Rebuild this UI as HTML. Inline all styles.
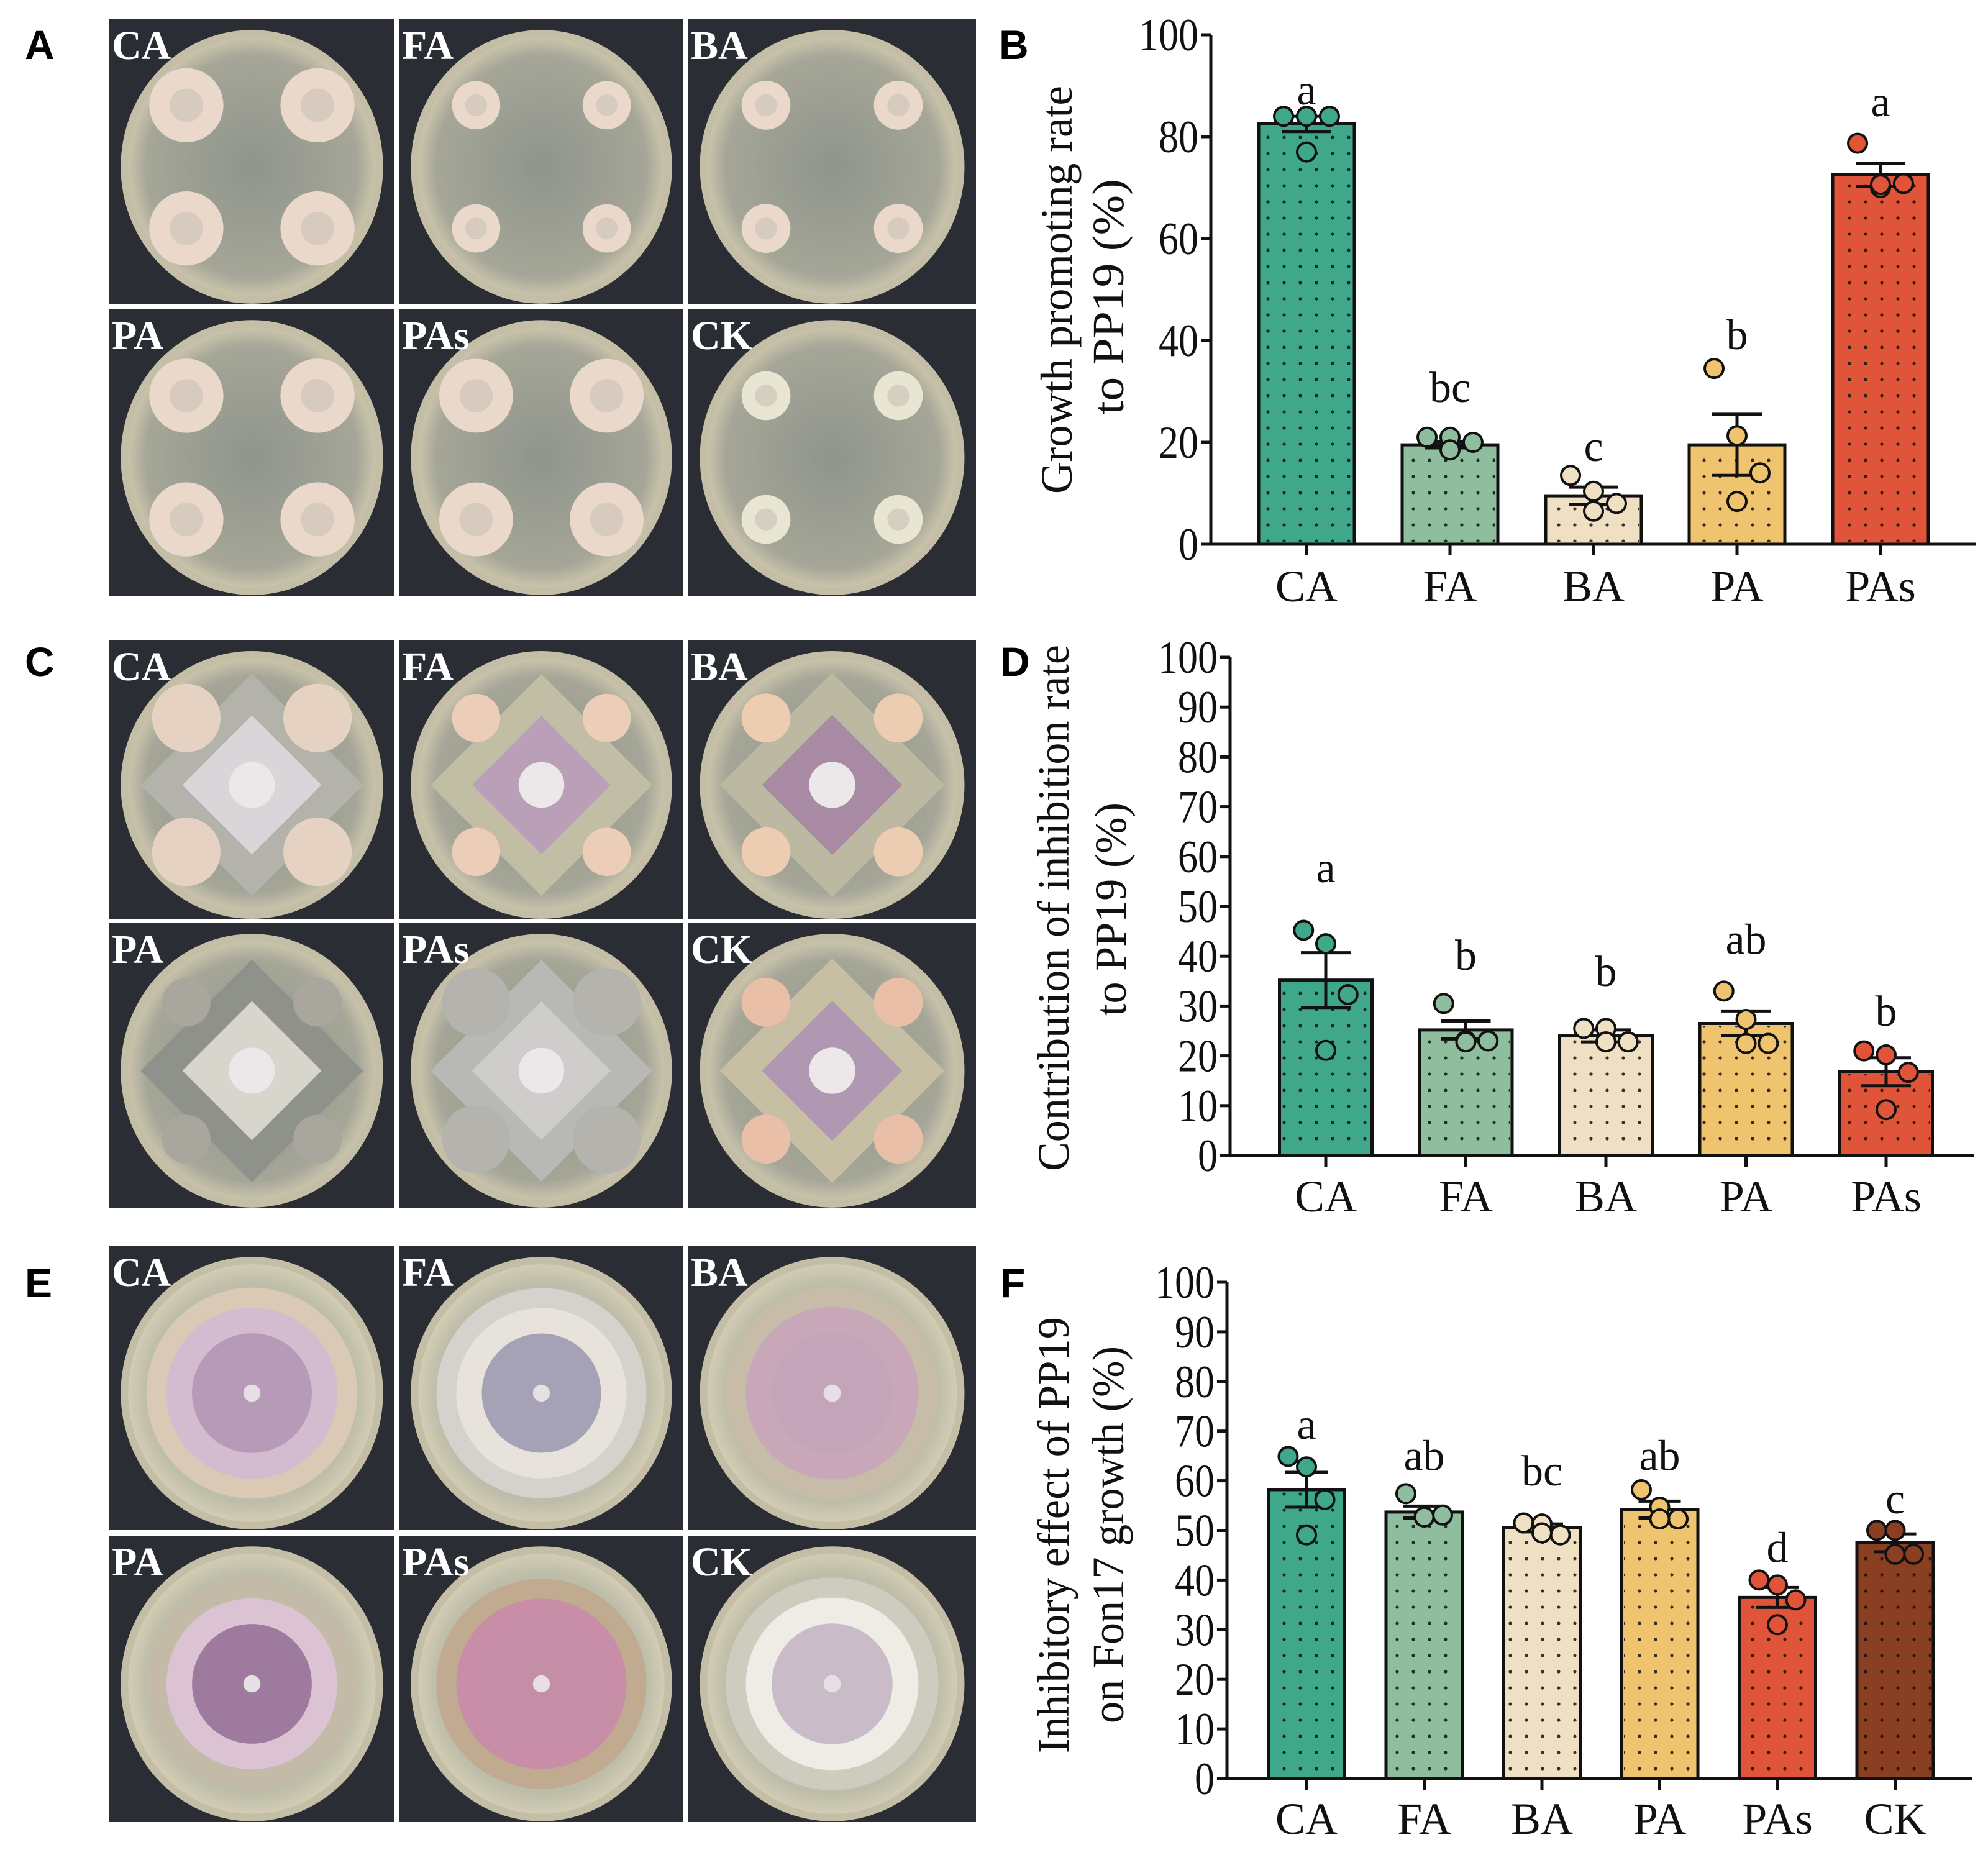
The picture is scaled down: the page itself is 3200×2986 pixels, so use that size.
<!DOCTYPE html>
<html><head><meta charset="utf-8">
<style>
html,body{margin:0;padding:0;background:#fff;}
svg{display:block;}
text{font-family:"Liberation Serif",serif;}
.pl{font-family:"Liberation Sans",sans-serif;font-weight:bold;}
</style></head>
<body>
<svg id="fig" width="3200" height="2986" viewBox="0 0 3200 2986" xmlns="http://www.w3.org/2000/svg">
<defs>
<pattern id="dots" width="26" height="26" patternUnits="userSpaceOnUse"><circle cx="13" cy="13" r="2.6" fill="#111"/></pattern>
<radialGradient id="agarA" cx="50%" cy="50%" r="50%"><stop offset="0" stop-color="#8f948c"/><stop offset="0.85" stop-color="#a5a697"/><stop offset="1" stop-color="#c9c3ab"/></radialGradient>
<radialGradient id="agarE" cx="50%" cy="50%" r="50%"><stop offset="0" stop-color="#b2b4a6"/><stop offset="0.85" stop-color="#bdbda9"/><stop offset="1" stop-color="#d3ccb4"/></radialGradient>
</defs>
<g id="photos"></g>
<g id="charts"></g>
<text class="pl" x="40" y="95" font-size="66">A</text>
<text class="pl" x="1608" y="95" font-size="66">B</text>
<text class="pl" x="40" y="1088" font-size="66">C</text>
<text class="pl" x="1610" y="1088" font-size="66">D</text>
<text class="pl" x="40" y="2088" font-size="66">E</text>
<text class="pl" x="1610" y="2088" font-size="66">F</text>
</svg>
<script>
// ---------- Chart B data ----------
const catsB = ['CA','FA','BA','PA','PAs'];
const meansB = [82.5,19.5,9.5,19.5,72.5];
const semB = [1.5,0.6,1.7,6,2.2];
const ptsB = [[84,84,84,77],[21,21,20,18.5],[13.5,10.4,8,6.5],[34.5,21.3,14,8.4],[78.7,70,70.8,70.6]];
const lettersB = ['a','bc','c','b','a'];
const letterYB = [89,30.6,19,41,86.7];
const ticksB = [0,20,40,60,80,100];
// ---------- Chart D data ----------
const catsD = ['CA','FA','BA','PA','PAs'];
const meansD = [35.2,25.2,24,26.5,16.8];
const semD = [5.5,1.8,1.2,2.5,2.8];
const ptsD = [[45.2,42.5,32.3,21.1],[30.5,23,23,22.8],[25.5,25.5,22.8,22.8],[33,27.3,22.5,22.5],[21,20.2,16.7,9.2]];
const lettersD = ['a','b','b','ab','b'];
const letterYD = [57.6,40,36.8,43.2,28.8];
const ticksD = [0,10,20,30,40,50,60,70,80,90,100];
// ---------- Chart F data ----------
const catsF = ['CA','FA','BA','PA','PAs','CK'];
const meansF = [58.2,53.7,50.5,54.2,36.5,47.5];
const semF = [3.5,1.2,0.8,1.7,2,1.8];
const ptsF = [[64.9,62.8,56.2,49.1],[57.4,52.7,53.1,52.7],[51.5,51.3,49.1,49.5],[58.2,54.7,52.3,52.3],[40,39,36,31],[50,50,45.2,45.2]];
const lettersF = ['a','ab','bc','ab','d','c'];
const letterYF = [71.2,64.9,61.8,64.9,46.4,56.2];
const ticksF = [0,10,20,30,40,50,60,70,80,90,100];

const colorMap = {CA:'#3fa88b',FA:'#8fbe9f',BA:'#efdfc3',PA:'#f0c46e',PAs:'#e0553a',CK:'#8b3f22'};
const NS='http://www.w3.org/2000/svg';
function mk(tag, attrs, parent){const e=document.createElementNS(NS,tag);for(const k in attrs)e.setAttribute(k,attrs[k]);parent.appendChild(e);return e;}

function drawChart(id, cats, means, sem, pts, letters, letterY, ticks, L){
  const charts=document.getElementById('charts');
  const g=mk('g',{},charts);
  
  
  const yS=v=>L.y0-(L.y0-L.y100)*v/100;
  const xS=i=>L.c0+i*L.step;
  cats.forEach((c,i)=>{
    const top=yS(means[i]);
    const bar=mk('rect',{x:xS(i)-L.bw/2,y:top,width:L.bw,height:L.y0-top,fill:colorMap[c],stroke:'#111','stroke-width':5},g);
    
    
    const dots=mk('rect',{x:xS(i)-L.bw/2+4,y:top+4,width:L.bw-8,height:Math.max(0,L.y0-top-8),fill:'url(#dots)',opacity:0.85},g);
    
    
  });
  cats.forEach((c,i)=>{
    const x=xS(i), hi=yS(means[i]+sem[i]), lo=yS(means[i]-sem[i]);
    const eb=mk('path',{d:`M${x},${hi}V${lo}M${x-L.cap},${hi}H${x+L.cap}M${x-L.cap},${lo}H${x+L.cap}`,stroke:'#111','stroke-width':5,fill:'none'},g);
    
    
  });
  const offs=[-0.3,0,0.3,0];
  cats.forEach((c,i)=>{
    pts[i].forEach((v,j)=>{
      const p=mk('circle',{cx:xS(i)+offs[j]*L.bw*0.8,cy:yS(v),r:15,fill:colorMap[c],stroke:'#111','stroke-width':4},g);
      
      
    });
  });
  cats.forEach((c,i)=>{
    const t=mk('text',{x:xS(i),y:yS(letterY[i])+22,'font-size':70,'text-anchor':'middle',fill:'#111'},g);
    t.textContent=letters[i];
    
    
  });
  const ya=mk('path',{d:`M${L.ax},${L.y100}V${L.y0}`,stroke:'#111','stroke-width':5},g);
  
  
  const xa=mk('path',{d:`M${L.ax-2},${L.y0}H${L.xend}`,stroke:'#111','stroke-width':5},g);
  
  
  ticks.forEach(t=>{
    const y=yS(t);
    const tk=mk('path',{d:`M${L.ax-16},${y}H${L.ax}`,stroke:'#111','stroke-width':5},g);
    
    
    const s=String(t);
    const lb=mk('text',{x:L.ax-20,y:y+25,'font-size':74,'text-anchor':'end',fill:'#111',textLength:s.length*32,lengthAdjust:'spacingAndGlyphs'},g);
    lb.textContent=s;
    
    
  });
  cats.forEach((c,i)=>{
    const x=xS(i);
    const tk=mk('path',{d:`M${x},${L.y0}V${L.y0+18}`,stroke:'#111','stroke-width':5},g);
    
    
    const lb=mk('text',{x:x,y:L.xlab,'font-size':72,'text-anchor':'middle',fill:'#111'},g);
    lb.textContent=c;
    
    
  });
  L.title.forEach((tl,k)=>{
    const cy=(tl.y1+tl.y2)/2;
    const t=mk('text',{x:0,y:0,'font-size':72,'text-anchor':'middle',fill:'#111',transform:`translate(${tl.x},${cy}) rotate(-90)`,textLength:tl.y2-tl.y1,lengthAdjust:'spacingAndGlyphs'},g);
    t.textContent=tl.s;
    
    
  });
}

drawChart('chart-b-growth-promoting', catsB, meansB, semB, ptsB, lettersB, letterYB, ticksB,
  {ax:1949,xend:3180,y0:876,y100:56,c0:2103,step:231,bw:154,cap:40,xlab:968,
   title:[{x:1725,y1:138,y2:795,s:'Growth promoting rate'},{x:1808,y1:288,y2:667,s:'to  PP19 (%)'}]});
drawChart('chart-d-inhibition-contribution', catsD, meansD, semD, ptsD, lettersD, letterYD, ticksD,
  {ax:1980,xend:3178,y0:1860,y100:1058,c0:2134,step:225.5,bw:149,cap:40,xlab:1950,
   title:[{x:1720,y1:1038,y2:1885,s:'Contribution of inhibition rate'},{x:1812,y1:1292,y2:1635,s:'to PP19 (%)'}]});
drawChart('chart-f-inhibitory-effect', catsF, meansF, semF, ptsF, lettersF, letterYF, ticksF,
  {ax:1975,xend:3175,y0:2863,y100:2064,c0:2103,step:189.5,bw:123,cap:34,xlab:2952,
   title:[{x:1720,y1:2120,y2:2822,s:'Inhibitory effect of PP19'},{x:1808,y1:2167,y2:2774,s:'on Fon17 growth (%)'}]});

const colX=[176,643,1108], colW=[459,457,463];
const rowsY=[[31,459],[498,461],[1031,449],[1486,459],[2006,457],[2472,461]];
const plateNames=[['CA','FA','BA'],['PA','PAs','CK']];
function photo(x,y,w,h,label,kind){
  const p=document.getElementById('photos');
  const g=mk('g',{},p);
  
  
  mk('rect',{x,y,width:w,height:h,fill:'#2b2d35'},g);
  const cx=x+w/2, cy=y+h/2+8, rx=w*0.46, ry=h*0.48;
  mk('ellipse',{cx,cy,rx:rx,ry:ry,fill:'#c4bea6'},g);
  mk('ellipse',{cx,cy,rx:rx-12,ry:ry-12,fill:kind==='E'?'url(#agarE)':'url(#agarA)'},g);
  if(kind==='A'){
    const col= label==='CK'?'#e8e6d2':'#ead9cb';
    const r= (label==='CA'||label==='PA'||label==='PAs')?w*0.13:w*0.085;
    [[-0.5,-0.45],[0.5,-0.45],[-0.5,0.45],[0.5,0.45]].forEach(o=>{
      mk('circle',{cx:cx+o[0]*rx,cy:cy+o[1]*ry,r:r,fill:col},g);
      mk('circle',{cx:cx+o[0]*rx,cy:cy+o[1]*ry,r:r*0.45,fill:'#c9c0b6',opacity:0.6},g);
    });
  } else if(kind==='C'){
    const cc={CA:'#d9d6da',FA:'#b9a0b8',BA:'#a98aa5',PA:'#d8d5cc',PAs:'#cfcdcb',CK:'#b198b2'}[label];
    const halo={CA:'#b3b3ab',FA:'#c2bea6',BA:'#bcb8a2',PA:'#8f928b',PAs:'#b8b9b4',CK:'#c6bfa4'}[label];
    const s=w*0.23;
    mk('rect',{x:cx-s*1.2,y:cy-s*1.2,width:s*2.4,height:s*2.4,fill:halo,transform:`rotate(45 ${cx} ${cy})`},g);
    mk('rect',{x:cx-s*0.75,y:cy-s*0.75,width:s*1.5,height:s*1.5,fill:cc,transform:`rotate(45 ${cx} ${cy})`},g);
    mk('circle',{cx,cy,r:s*0.35,fill:'#ece8ea'},g);
    const col={CA:'#e6d2c2',FA:'#eccdb8',BA:'#eccdb2',PA:'#a9a69d',PAs:'#b5b3ae',CK:'#e9bfa8'}[label];
    const r=(label==='CA'||label==='PAs')?w*0.12:w*0.085;
    [[-0.5,-0.5],[0.5,-0.5],[-0.5,0.5],[0.5,0.5]].forEach(o=>{
      mk('circle',{cx:cx+o[0]*rx,cy:cy+o[1]*ry,r:r,fill:col},g);
    });
  } else {
    const c={CA:['#d9c9b5','#d3bccf','#b79ab8'],FA:['#d4d2cc','#e7e3dc','#a4a2b4'],BA:['#c6bca7','#c8a8b8','#c3a4b8'],
             PA:['#c3baa8','#dcc3d3','#9e7b9e'],PAs:['#c0ab90','#c88ea8','#c58ea7'],CK:['#ccccbf','#efece6','#c9bcc8']}[label];
    mk('circle',{cx,cy,r:w*0.37,fill:c[0]},g);
    mk('circle',{cx,cy,r:w*0.30,fill:c[1]},g);
    mk('circle',{cx,cy,r:w*0.21,fill:c[2]},g);
    mk('circle',{cx,cy,r:w*0.03,fill:'#e6e0e4'},g);
  }
  const t=mk('text',{x:x+4,y:y+64,'font-size':66,'font-weight':'bold',fill:'#fff'},g);
  t.textContent=label;
  
  
}
const kinds=['A','A','C','C','E','E'];
rowsY.forEach((ry,ri)=>{
  colX.forEach((cx,ci)=>{
    photo(cx,ry[0],colW[ci],ry[1],plateNames[ri%2][ci],kinds[ri]);
  });
});
</script>
</body></html>
